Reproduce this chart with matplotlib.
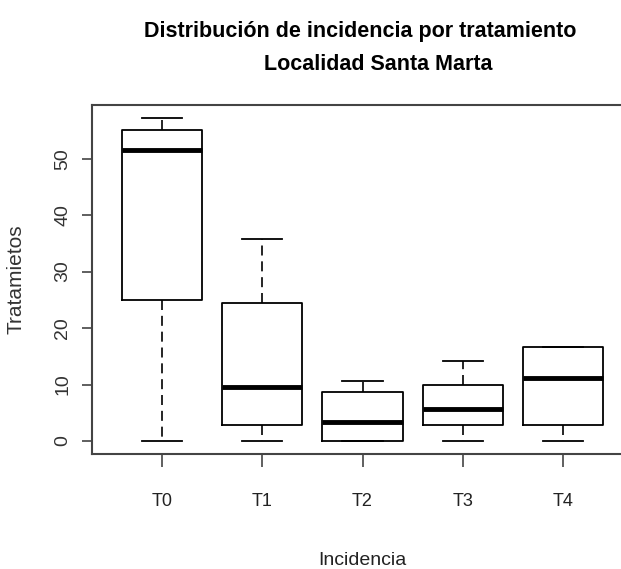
import matplotlib
matplotlib.use("Agg")
import matplotlib.pyplot as plt

# box statistics
labels = ["T0", "T1", "T2", "T3", "T4"]
whislo = [0.0, 0.0, 0.0, 0.0, 0.0]
q1 = [25.0, 2.8, 0.0, 2.8, 2.8]
med = [51.5, 9.5, 3.4, 5.6, 11.1]
q3 = [55.0, 24.4, 8.6, 9.9, 16.7]
whishi = [57.2, 35.7, 10.6, 14.1, 16.7]

stats = []
for i in range(len(labels)):
    stats.append({"label": labels[i], "whislo": whislo[i], "q1": q1[i], "med": med[i],
                  "q3": q3[i], "whishi": whishi[i], "fliers": []})

plain = ["Liberation Sans", "DejaVu Sans"]

fig = plt.figure(figsize=(6.21, 5.69), dpi=100)
ax = fig.add_axes([92 / 621, 115 / 569, 541 / 621, 349 / 569])

ax.bxp(stats, positions=range(1, 6), widths=0.8, capwidths=0.4, showfliers=False,
       boxprops=dict(color="black", linewidth=1.3),
       medianprops=dict(color="black", linewidth=3.5, solid_capstyle="butt"),
       whiskerprops=dict(color="black", linewidth=1.2, linestyle=(0, (6, 3.5))),
       capprops=dict(color="black", linewidth=1.3))

ax.set_xlim(0.3, 5.7)
ax.set_ylim(-2.3, 59.5)
ax.set_yticks([0, 10, 20, 30, 40, 50])
ax.set_yticklabels(["0", "10", "20", "30", "40", "50"], rotation=90, va="center",
                   family=plain, fontsize=14, color="#333333")
ax.set_xticks(range(1, 6))
ax.set_xticklabels(labels, family=plain, fontsize=13, color="#222222")
ax.tick_params(axis="y", length=7, width=1.2, color="#444444", pad=8)
ax.tick_params(axis="x", length=9, width=1.2, color="#444444", pad=19)

for s in ax.spines.values():
    s.set_linewidth(1.5)
    s.set_color("#444444")

ax.set_ylabel("Tratamietos", family=plain, fontsize=15, color="#333333")
ax.yaxis.set_label_coords(-66 / 541, 0.5)
ax.set_xlabel("Incidencia", family=plain, fontsize=14, color="#222222", labelpad=30)

fig.text(360 / 621, 1 - 32 / 569, "Distribución de incidencia por tratamiento",
         family=plain, fontsize=15.5, fontweight="bold", ha="center", va="center")
fig.text(378 / 621, 1 - 64 / 569, "Localidad Santa Marta",
         family=plain, fontsize=15.5, fontweight="bold", ha="center", va="center")

fig.savefig("out.png", dpi=100)
